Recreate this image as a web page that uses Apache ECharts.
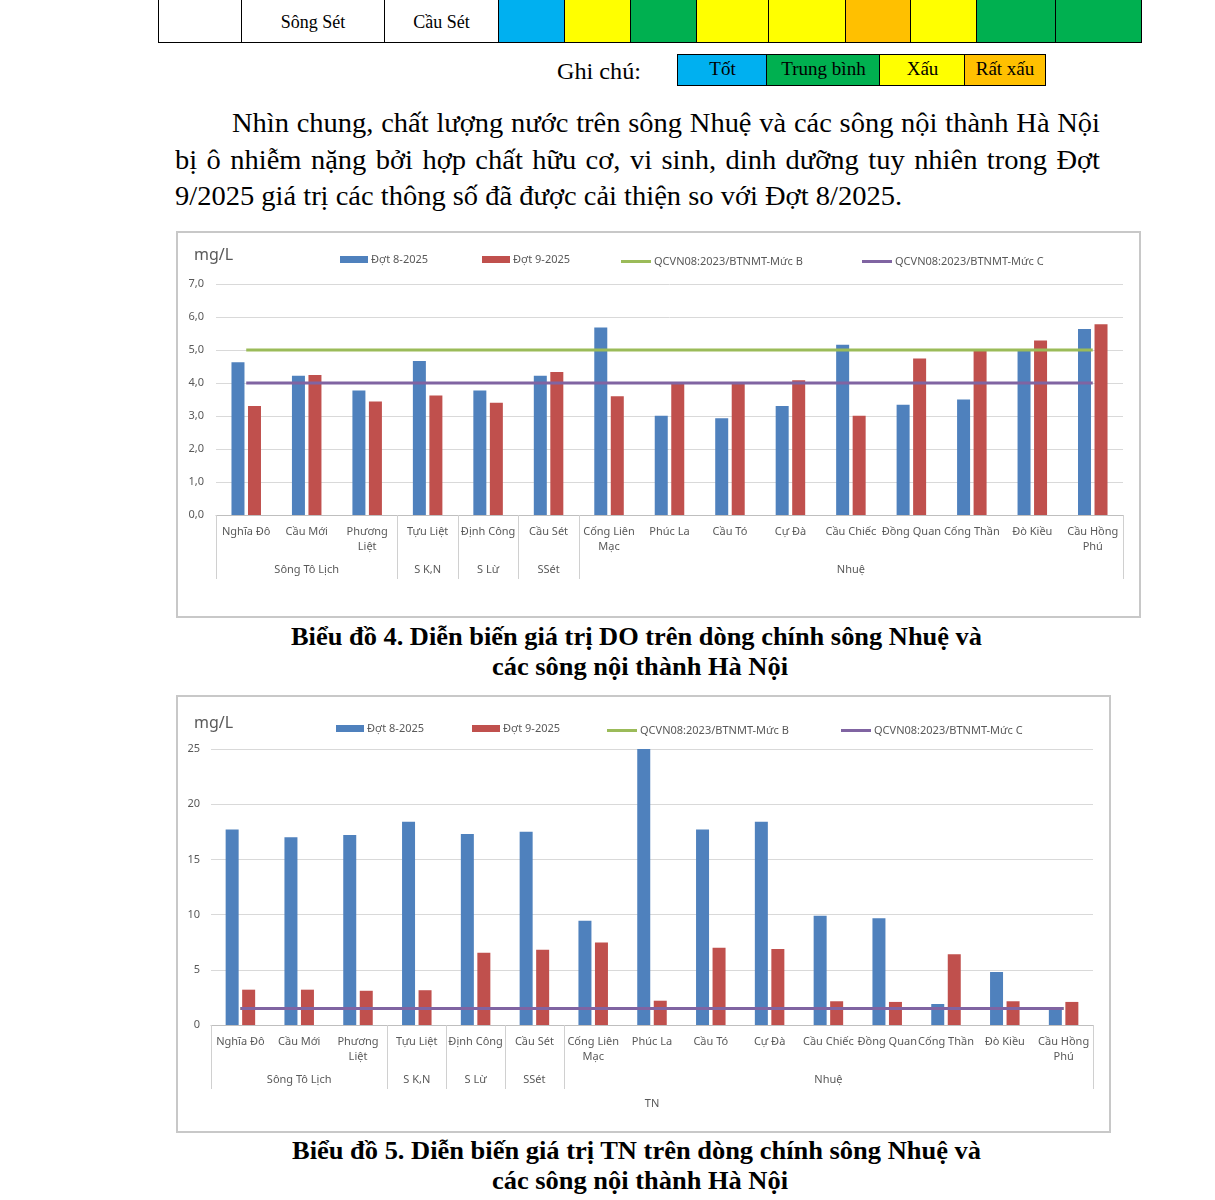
<!DOCTYPE html>
<html><head><meta charset="utf-8">
<script src="https://cdn.jsdelivr.net/npm/echarts@6/dist/echarts.min.js"></script>
<style>
html,body{margin:0;padding:0}
body{width:1215px;height:1200px;position:relative;background:#fff;overflow:hidden;font-family:"Liberation Serif","Times New Roman",serif;color:#000}
.abs{position:absolute}
.fit{position:absolute;white-space:nowrap;transform-origin:0 50%}
table.t{position:absolute;left:158px;top:-2px;border-collapse:collapse;table-layout:fixed}
table.t td{border:1.5px solid #000;border-top:none;height:44px;padding:6px 0 0 0;text-align:center;font-size:18px;box-sizing:border-box}
.lg{position:absolute;top:54px;height:32px;border:1.5px solid #000;box-sizing:border-box;text-align:center;font-size:19px;line-height:28px}
.box{position:absolute;border:2px solid #c8c8c8;box-sizing:border-box;background:#fff}
.cap{font-weight:bold;font-size:25px}
</style></head>
<body>
<table class="t"><tr>
<td style="width:83px"></td>
<td style="width:143px">Sông Sét</td>
<td style="width:114px">Cầu Sét</td>
<td style="width:66px;background:#00B0F0"></td>
<td style="width:66px;background:#FFFF00"></td>
<td style="width:66px;background:#00B050"></td>
<td style="width:72px;background:#FFFF00"></td>
<td style="width:77px;background:#FFFF00"></td>
<td style="width:65px;background:#FFC000"></td>
<td style="width:66px;background:#FFFF00"></td>
<td style="width:79px;background:#00B050"></td>
<td style="width:86px;background:#00B050"></td>
</tr></table>

<div class="fit" id="ghichu" style="left:557px;top:58px;font-size:23px;line-height:28px" data-w="84">Ghi chú:</div>
<div class="lg" style="left:677px;width:91px;background:#00B0F0">Tốt</div>
<div class="lg" style="left:766px;width:115px;background:#00B050">Trung bình</div>
<div class="lg" style="left:879px;width:87px;background:#FFFF00">Xấu</div>
<div class="lg" style="left:964px;width:82px;background:#FFC000">Rất xấu</div>

<div class="fit" style="left:232px;top:105px;font-size:27px;line-height:36px" data-w="868" data-j="1">Nhìn chung, chất lượng nước trên sông Nhuệ và các sông nội thành Hà Nội</div>
<div class="fit" style="left:175px;top:142px;font-size:27px;line-height:36px" data-w="925" data-j="1">bị ô nhiễm nặng bởi hợp chất hữu cơ, vi sinh, dinh dưỡng tuy nhiên trong Đợt</div>
<div class="fit" id="last" style="left:175px;top:178px;font-size:27px;line-height:36px" data-w="727">9/2025 giá trị các thông số đã được cải thiện so với Đợt 8/2025.</div>

<div class="box" style="left:176px;top:231px;width:965px;height:387px"><div id="c1" style="position:absolute;left:0;top:0;width:961px;height:383px"></div></div>
<div class="fit cap" style="left:291px;top:622px;line-height:30px" data-w="691">Biểu đồ 4. Diễn biến giá trị DO trên dòng chính sông Nhuệ và</div>
<div class="fit cap" style="left:492px;top:652px;line-height:30px" data-w="296">các sông nội thành Hà Nội</div>

<div class="box" style="left:176px;top:695px;width:935px;height:438px"><div id="c2" style="position:absolute;left:0;top:0;width:931px;height:434px"></div></div>
<div class="fit cap" style="left:292px;top:1136px;line-height:30px" data-w="689">Biểu đồ 5. Diễn biến giá trị TN trên dòng chính sông Nhuệ và</div>
<div class="fit cap" style="left:492px;top:1166px;line-height:30px" data-w="296">các sông nội thành Hà Nội</div>

<script>
// ---------- DATA ----------
const categories = ['Nghĩa Đô','Cầu Mới','Phương\nLiệt','Tựu Liệt','Định Công','Cầu Sét','Cống Liên\nMạc','Phúc La','Cầu Tó','Cự Đà','Cầu Chiếc','Đồng Quan','Cống Thần','Đò Kiều','Cầu Hồng\nPhú'];
const groupNames = ['Sông Tô Lịch','S K,N','S Lừ','SSét','Nhuệ'];
const groupSizes = [3,1,1,1,9];
const seriesNames = ['Đợt 8-2025','Đợt 9-2025','QCVN08:2023/BTNMT-Mức B','QCVN08:2023/BTNMT-Mức C'];

const doDot8 = [4.63,4.22,3.77,4.67,3.77,4.22,5.68,3.01,2.93,3.30,5.16,3.34,3.50,4.98,5.64];
const doDot9 = [3.30,4.24,3.44,3.62,3.40,4.33,3.60,3.97,3.98,4.08,3.01,4.74,4.97,5.29,5.78];
const doMucB = 5.0;
const doMucC = 4.0;

const tnDot8 = [17.7,17.0,17.2,18.4,17.3,17.5,9.45,25.0,17.7,18.4,9.9,9.67,1.9,4.8,1.5];
const tnDot9 = [3.2,3.2,3.1,3.15,6.55,6.82,7.48,2.2,7.0,6.88,2.15,2.09,6.4,2.15,2.09];
const tnMucB = 1.5;
const tnMucC = 1.5;
const tnTitle = 'TN';

// ---------- helpers ----------
const bounds = [0]; const centers = [];
groupSizes.forEach(s => { const b = bounds[bounds.length-1]; centers.push(b + s/2); bounds.push(b + s); });
const FONT = 'Noto Sans';
const GRAY = '#595959';

function legendItem(name, left, top, isLine){
  return { data:[name], left:left, top:top, icon:'rect',
    itemWidth: isLine?30:28, itemHeight: isLine?3:7, itemGap:3,
    textStyle:{color:GRAY,fontSize:11,fontFamily:FONT,padding:[0,0,0,-2]}, selectedMode:false };
}

function makeOption(cfg){
  const xAxes = [
    { type:'category', data:categories, gridIndex:0, position:'bottom',
      axisTick:{show:false}, axisLine:{lineStyle:{color:'#bfbfbf',width:1}},
      axisLabel:{interval:0, hideOverlap:false, color:GRAY, fontSize:11, fontFamily:FONT, margin:9, lineHeight:15}},
    { type:'value', min:0, max:categories.length, gridIndex:0, position:'bottom', offset:64,
      axisLine:{show:false}, splitLine:{show:false},
      axisTick:{show:true, inside:true, length:64, customValues:bounds, lineStyle:{color:'#d0d0d0'}},
      axisLabel:{customValues:centers, margin:-15, color:GRAY, fontSize:11, fontFamily:FONT,
        formatter:v => { const i = centers.findIndex(c => Math.abs(c-v)<1e-6); return i>=0?groupNames[i]:''; }}}
  ];
  if (cfg.bottomTitle){
    xAxes.push({ type:'value', min:0, max:categories.length, gridIndex:0, position:'bottom', offset:64,
      axisLine:{show:false}, splitLine:{show:false}, axisTick:{show:false},
      axisLabel:{customValues:[categories.length/2], margin:9, color:GRAY, fontSize:11, fontFamily:FONT, formatter:()=>cfg.bottomTitle}});
  }
  return {
    animation:false,
    textStyle:{fontFamily:FONT},
    title:{text:'mg/L', left:11, top:cfg.titleTop, textStyle:{color:GRAY,fontSize:16,fontWeight:'normal',fontFamily:FONT}},
    legend:[
      legendItem(seriesNames[0], cfg.lgX[0], cfg.lgTop, false),
      legendItem(seriesNames[1], cfg.lgX[1], cfg.lgTop, false),
      legendItem(seriesNames[2], cfg.lgX[2], cfg.lgTop+2, true),
      legendItem(seriesNames[3], cfg.lgX[3], cfg.lgTop+2, true)
    ],
    grid:cfg.grid,
    xAxis:xAxes,
    yAxis:{ type:'value', min:cfg.yMin, max:cfg.yMax, interval:cfg.yInt,
      axisLine:{show:false}, axisTick:{show:false},
      splitLine:{lineStyle:{color:'#d9d9d9',width:1}},
      axisLabel:{color:GRAY, fontSize:11, fontFamily:FONT, margin:cfg.yMargin, formatter:cfg.yFmt}},
    series:[
      {name:seriesNames[0], type:'bar', xAxisIndex:0, data:cfg.d8, itemStyle:{color:'#4F81BD'}, barWidth:13, barGap:'27%'},
      {name:seriesNames[1], type:'bar', xAxisIndex:0, data:cfg.d9, itemStyle:{color:'#C0504D'}, barWidth:13},
      {name:seriesNames[2], type:'line', xAxisIndex:0, data:categories.map(()=>cfg.mB), symbol:'none', lineStyle:{color:'#9BBB59',width:3}, itemStyle:{color:'#9BBB59'}, z:3},
      {name:seriesNames[3], type:'line', xAxisIndex:0, data:categories.map(()=>cfg.mC), symbol:'none', lineStyle:{color:'#8064A2',width:3}, itemStyle:{color:'#8064A2'}, z:4}
    ]
  };
}

const c1 = echarts.init(document.getElementById('c1'), null, {renderer:'canvas'});
c1.setOption(makeOption({
  grid:{left:38, right:16, top:51, bottom:101},
  titleTop:9, lgTop:16, lgX:[157,299,438,679],
  yMin:0, yMax:7, yInt:1, yMargin:12, yFmt:v => v.toFixed(1).replace('.',','),
  d8:doDot8, d9:doDot9, mB:doMucB, mC:doMucC
}));

const c2 = echarts.init(document.getElementById('c2'), null, {renderer:'canvas'});
c2.setOption(makeOption({
  grid:{left:33, right:16, top:52, bottom:106},
  titleTop:13, lgTop:21, lgX:[153,289,424,658],
  yMin:0, yMax:25, yInt:5, yMargin:11, yFmt:v => String(v),
  d8:tnDot8, d9:tnDot9, mB:tnMucB, mC:tnMucC, bottomTitle:tnTitle
}));

// fit text lines to measured widths of the reference
function fitAll(){
  const els = Array.from(document.querySelectorAll('.fit'));
  els.forEach(el => { el.style.transform = 'none'; el.style.wordSpacing = '0px'; });
  const last = document.getElementById('last');
  const bodyScale = (+last.dataset.w) / last.getBoundingClientRect().width;
  els.forEach(el => {
    const target = +el.dataset.w;
    const w = el.getBoundingClientRect().width;
    if (el.dataset.j){
      const words = el.textContent.trim().split(/\s+/).length - 1;
      const extra = (target/bodyScale - w)/words;
      el.style.wordSpacing = extra + 'px';
      el.style.transform = 'scaleX(' + bodyScale + ')';
    } else {
      el.style.transform = 'scaleX(' + (target/w) + ')';
    }
  });
}
if (document.fonts && document.fonts.ready) document.fonts.ready.then(fitAll);
fitAll();
</script>
</body></html>
